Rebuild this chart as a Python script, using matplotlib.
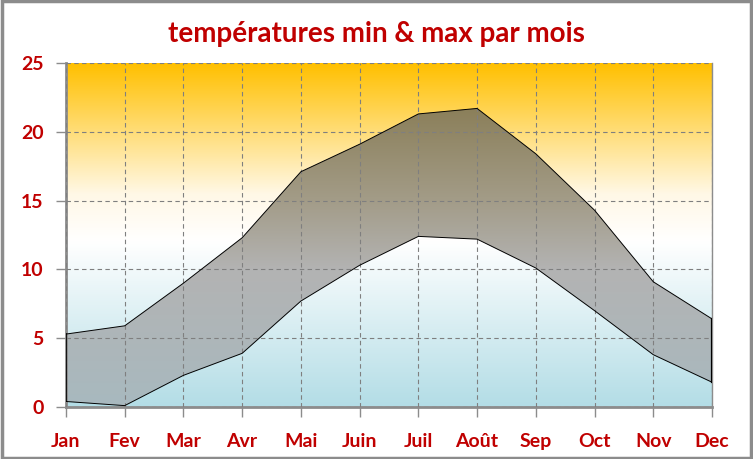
import matplotlib
matplotlib.use("Agg")
import matplotlib.pyplot as plt
from matplotlib.colors import LinearSegmentedColormap
from matplotlib.patches import Rectangle
import numpy as np

mois = ['Jan', 'Fev', 'Mar', 'Avr', 'Mai', 'Juin', 'Juil', 'Août', 'Sep', 'Oct', 'Nov', 'Dec']
t_max = [5.3, 5.9, 9.0, 12.3, 17.1, 19.1, 21.3, 21.7, 18.4, 14.3, 9.1, 6.4]
t_min = [0.4, 0.1, 2.3, 3.9, 7.7, 10.3, 12.4, 12.2, 10.1, 7.0, 3.8, 1.8]

rouge = '#C00000'
gris = '#8C8C8C'
plt.rcParams['font.family'] = ['Lato', 'DejaVu Sans']

x = np.arange(len(mois))

fig = plt.figure(figsize=(7.53, 4.59), dpi=100)
ax = fig.add_axes([0.0876, 0.1133, 0.858, 0.7494])
ax.set_xlim(0, len(mois) - 1)
ax.set_ylim(0, 25)

# fond dégradé (bleu en bas, blanc au milieu, orange en haut)
fond = LinearSegmentedColormap.from_list(
    'fond', [(0.0, '#B3DDE6'), (0.48, '#FFFFFF'), (0.62, '#FFF8E6'), (1.0, '#FFC000')])
grad = np.linspace(0, 1, 256).reshape(-1, 1)
ax.imshow(grad, cmap=fond, origin='lower', aspect='auto',
          extent=[0, len(mois) - 1, 0, 25], zorder=0)

# bande min/max avec son propre dégradé, découpée selon le polygone
bande = ax.fill_between(x, t_min, t_max, facecolor='none', edgecolor='none', zorder=2)
teinte = LinearSegmentedColormap.from_list(
    'bande', [(0.0, '#A8B9BF'), (0.4, '#B3B3B3'), (0.6, '#A39C88'), (0.88, '#8A7E58'), (1.0, '#887B54')])
img = ax.imshow(grad, cmap=teinte, origin='lower', aspect='auto',
                extent=[0, len(mois) - 1, 0, 25], zorder=1.5)
chemin = bande.get_paths()[0]
img.set_clip_path(chemin, transform=ax.transData)

ax.plot(x, t_max, color='black', lw=0.7, zorder=3)
ax.plot(x, t_min, color='black', lw=0.7, zorder=3)
ax.plot([0, 0], [t_min[0], t_max[0]], color='black', lw=1.2, zorder=3)
ax.plot([x[-1], x[-1]], [t_min[-1], t_max[-1]], color='black', lw=1.6, zorder=3)

ax.grid(True, color='#7F7F7F', ls=(0, (4, 3)), lw=0.8, zorder=1.8)
ax.set_axisbelow(False)
for l in ax.get_xgridlines() + ax.get_ygridlines():
    l.set_zorder(1.8)

ax.set_xticks(x)
ax.set_xticklabels(mois)
ax.set_yticks(range(0, 26, 5))
ax.tick_params(axis='both', colors=gris, length=7, width=1, direction='out',
               labelcolor=rouge, labelsize=14)
ax.tick_params(axis='x', pad=12)
ax.tick_params(axis='y', pad=9)
for lab in ax.get_xticklabels() + ax.get_yticklabels():
    lab.set_fontweight('bold')

ax.spines['top'].set_visible(False)
ax.spines['right'].set_color(gris)
ax.spines['right'].set_linewidth(1)
for s in ('left', 'bottom'):
    ax.spines[s].set_color(gris)
    ax.spines[s].set_linewidth(2)

fig.text(0.5, 0.926, 'températures min & max par mois', ha='center', va='center',
         color=rouge, fontsize=20, fontweight='bold')

fig.patches.append(Rectangle((0.002, 0.003), 0.996, 0.994, transform=fig.transFigure,
                             fill=False, edgecolor=gris, lw=2.5))

fig.savefig('out.png', dpi=100)
